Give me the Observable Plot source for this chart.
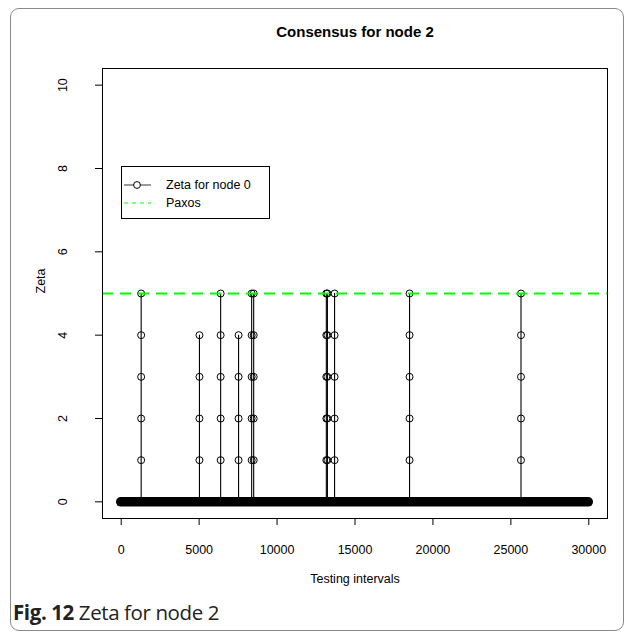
<!DOCTYPE html>
<html>
<head>
<meta charset="utf-8">
<script src="https://cdn.jsdelivr.net/npm/d3@7"></script>
<script src="https://cdn.jsdelivr.net/npm/@observablehq/plot@0.6"></script>
<style>
  html, body { margin: 0; padding: 0; background: #fff; }
  body { width: 635px; height: 639px; position: relative; overflow: hidden; font-family: "Liberation Sans", Arial, sans-serif; }
  #outer { position: absolute; left: 10px; top: 8px; width: 614px; height: 623px; border: 1px solid #8a8a8a; border-radius: 9px; box-sizing: border-box; }
  #chart { position: absolute; left: 0; top: 0; }
  #legend { position: absolute; left: 121px; top: 166px; width: 149px; height: 53px; border: 1px solid #000; box-sizing: border-box; background: #fff; font-size: 12.5px; }
  #legend .row { position: absolute; left: 0; height: 18px; line-height: 18px; }
  #legend svg { position: absolute; left: 0; top: 0; }
  #caption { position: absolute; left: 13px; top: 599px; font-family: "Open Sans", sans-serif; font-size: 20.5px; line-height: 26px; color: #222; letter-spacing: -0.4px; }
  #caption b { font-weight: 700; }
</style>
</head>
<body>
<div id="outer"></div>
<div id="chart"></div>
<div id="legend"></div>
<div id="caption"><b>Fig. 12</b> Zeta for node 2</div>
<script>
// ---- data ----
const title = "Consensus for node 2";
const xLabel = "Testing intervals";
const yLabel = "Zeta";
const xTicks = [0, 5000, 10000, 15000, 20000, 25000, 30000];
const yTicks = [0, 2, 4, 6, 8, 10];
// testing intervals where zeta rises above zero, and the peak reached
const spikeX    = [1280, 5020, 6380, 7530, 8370, 8500, 13160, 13230, 13690, 18500, 25650];
const spikePeak = [5,    4,    5,    4,    5,    5,    5,     5,     5,     5,     5];
// zeta is 0 for every other interval over this range
const baseStart = 0;
const baseEnd = 30000;
const paxosLevel = 5;
const legendLabels = ["Zeta for node 0", "Paxos"];

// ---- build tables ----
const spikes = spikeX.map((x, i) => ({x, peak: spikePeak[i]}));
const spikePoints = [];
spikes.forEach(s => { for (let k = 1; k <= s.peak; k++) spikePoints.push({x: s.x, zeta: k}); });
const baseline = [{x1: baseStart, x2: baseEnd, zeta: 0}];

const W = 635, H = 600;
const chart = Plot.plot({
  width: W,
  height: H,
  marginLeft: 102,
  marginRight: 28,
  marginTop: 68,
  marginBottom: 82,
  style: {fontFamily: "Liberation Sans, Arial, sans-serif", fontSize: "12.5px", background: "transparent", overflow: "visible"},
  x: {domain: [-1200, 31200]},
  y: {domain: [-0.4, 10.4]},
  marks: [
    Plot.ruleY(baseline, {x1: "x1", x2: "x2", y: "zeta", stroke: "#000", strokeWidth: 9.5, strokeLinecap: "round"}),
    Plot.ruleX(spikes, {x: "x", y1: 0, y2: "peak", stroke: "#000", strokeWidth: 1.1}),
    Plot.dot(spikePoints, {x: "x", y: "zeta", r: 3.5, stroke: "#000", fill: "none", strokeWidth: 1}),
    Plot.ruleY([paxosLevel], {stroke: "#00ff00", strokeWidth: 2.2, strokeDasharray: "11,7"}),
    Plot.frame({stroke: "#000", strokeWidth: 1}),
    Plot.axisX(xTicks, {ticks: xTicks, tickSize: 7, tickPadding: 20, tickFormat: d => String(d), label: null, fontSize: 12.5, stroke: "#000"}),
    Plot.axisY(yTicks, {ticks: yTicks, tickSize: 7, tickPadding: 29, tickRotate: -90, tickFormat: d => String(d), label: null, fontSize: 12.5, stroke: "#000"}),
    Plot.text([title], {frameAnchor: "top", dy: -42, fontWeight: "bold", fontSize: 15, fill: "#000"}),
    Plot.text([xLabel], {frameAnchor: "bottom", dy: 64, fontSize: 12.5, fill: "#000"}),
    Plot.text([yLabel], {frameAnchor: "left", dx: -62, rotate: -90, fontSize: 12.5, fill: "#000"})
  ]
});
document.getElementById("chart").appendChild(chart);

// ---- legend ----
const lg = document.getElementById("legend");
lg.innerHTML = `
<svg width="149" height="53">
  <line x1="2" x2="29" y1="18" y2="18" stroke="#333" stroke-width="1"/>
  <circle cx="15" cy="18" r="3.4" fill="#fff" stroke="#000"/>
  <line x1="2" x2="29" y1="36" y2="36" stroke="#00ff00" stroke-width="1" stroke-dasharray="4,4"/>
</svg>
<div class="row" style="left:44px; top:9px">${legendLabels[0]}</div>
<div class="row" style="left:44px; top:27px">${legendLabels[1]}</div>`;
</script>
</body>
</html>
